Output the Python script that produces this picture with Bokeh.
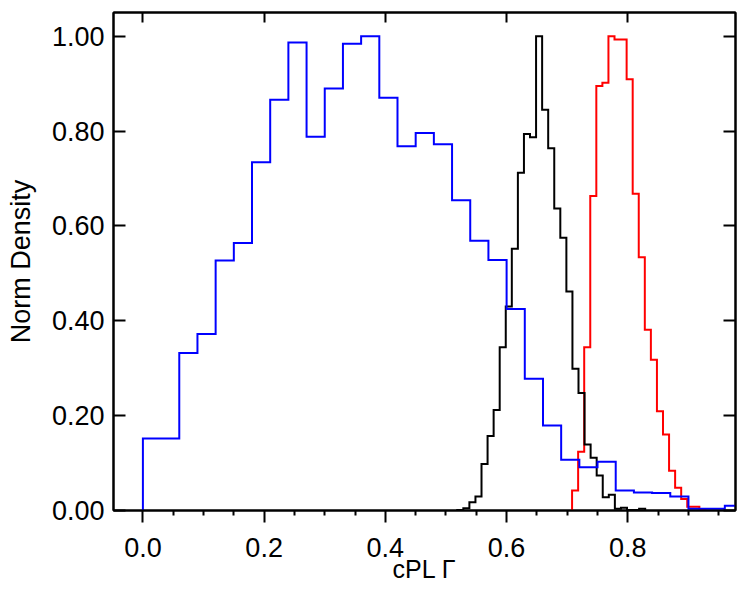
from bokeh.plotting import figure
from bokeh.models import (Range1d, LinearAxis, FixedTicker, PrintfTickFormatter,
                          CustomJSTickFormatter)
from bokeh.embed import file_html
from bokeh.resources import INLINE

# ---- data (normalized histograms) ----
blue_start = 0.0
blue_width = 0.03
blue_vals = [0.152, 0.152, 0.332, 0.372, 0.527, 0.564, 0.734, 0.866, 0.987, 0.788,
             0.890, 0.984, 1.000, 0.870, 0.768, 0.796, 0.772, 0.654, 0.569, 0.528,
             0.425, 0.278, 0.179, 0.107, 0.091, 0.103, 0.042, 0.038, 0.037, 0.0295,
             0.0035, 0.0035, 0.0098]

black_start = 0.5186
black_width = 0.01
black_vals = [0.001, 0.005, 0.0176, 0.0295, 0.098, 0.157, 0.212, 0.344, 0.430, 0.552,
              0.712, 0.794, 0.787, 1.000, 0.845, 0.764, 0.637, 0.575, 0.462, 0.299,
              0.248, 0.139, 0.111, 0.074, 0.028, 0.033, 0.0035, 0.0056, 0.001, 0.001,
              0.0035]

red_start = 0.708
red_width = 0.01
red_vals = [0.042, 0.124, 0.344, 0.663, 0.895, 0.902, 1.000, 0.993, 0.993, 0.909,
            0.668, 0.534, 0.381, 0.318, 0.209, 0.160, 0.084, 0.048, 0.024, 0.008,
            0.008, 0.002]

x_ticks = [0.0, 0.2, 0.4, 0.6, 0.8]
x_minor = [0.05, 0.1, 0.15, 0.25, 0.3, 0.35, 0.45, 0.5, 0.55, 0.65, 0.7, 0.75, 0.85, 0.9, 0.95]
y_ticks = [0.0, 0.2, 0.4, 0.6, 0.8, 1.0]

x_title = "cPL Γ"
y_title = "Norm Density"

FONT = "Liberation Sans"


def step_path(start, width, vals):
    xs, ys = [start], [0.0]
    for i, v in enumerate(vals):
        x0 = start + i * width
        xs += [x0, x0 + width]
        ys += [v, v]
    xs.append(start + len(vals) * width)
    ys.append(0.0)
    return xs, ys


p = figure(width=745, height=596,
           x_range=Range1d(-0.0485, 0.9776), y_range=Range1d(0, 1.05),
           output_backend="svg", toolbar_location=None,
           x_axis_location=None, y_axis_location=None,
           min_border_left=113, min_border_right=10,
           min_border_top=12, min_border_bottom=86)
p.grid.visible = False
p.outline_line_color = "black"
p.outline_line_width = 2
p.background_fill_color = "white"
p.border_fill_color = "white"

for (s, w, v, c) in [(red_start, red_width, red_vals, "#ff0000"),
                     (black_start, black_width, black_vals, "#000000"),
                     (blue_start, blue_width, blue_vals, "#0000ff")]:
    xs, ys = step_path(s, w, v)
    p.line(xs, ys, line_color=c, line_width=2, line_join="miter")


def style_axis(ax):
    ax.axis_line_width = 2
    ax.axis_line_color = "black"
    ax.major_tick_line_width = 2
    ax.minor_tick_line_width = 2
    ax.major_tick_line_color = "black"
    ax.minor_tick_line_color = "black"
    ax.major_label_text_font = FONT
    ax.major_label_text_color = "black"
    ax.axis_label_text_font = FONT
    ax.axis_label_text_font_style = "normal"
    ax.axis_label_text_color = "black"


xb = LinearAxis(ticker=FixedTicker(ticks=x_ticks, minor_ticks=x_minor),
                formatter=PrintfTickFormatter(format="%.1f"),
                axis_label=x_title)
style_axis(xb)
xb.major_tick_in = 0
xb.major_tick_out = 12
xb.minor_tick_in = 0
xb.minor_tick_out = 5
xb.major_label_text_font_size = "27px"
xb.major_label_standoff = 15
xb.axis_label_text_font_size = "25px"
xb.axis_label_standoff = -5
p.add_layout(xb, "below")

yl = LinearAxis(ticker=FixedTicker(ticks=y_ticks, minor_ticks=[]),
                formatter=PrintfTickFormatter(format="%.2f"),
                axis_label=y_title)
style_axis(yl)
yl.major_tick_in = 12
yl.major_tick_out = 0
yl.minor_tick_line_color = None
yl.major_label_text_font_size = "27px"
yl.major_label_standoff = 9
yl.axis_label_text_font_size = "27px"
yl.axis_label_standoff = 13
p.add_layout(yl, "left")

blank = CustomJSTickFormatter(code="return ''")

xt = LinearAxis(ticker=FixedTicker(ticks=x_ticks, minor_ticks=[]), formatter=blank)
style_axis(xt)
xt.major_tick_in = 10
xt.major_tick_out = 0
xt.minor_tick_line_color = None
xt.major_label_standoff = 0
p.add_layout(xt, "above")

yr = LinearAxis(ticker=FixedTicker(ticks=y_ticks, minor_ticks=[]), formatter=blank)
style_axis(yr)
yr.major_tick_in = 12
yr.major_tick_out = 0
yr.minor_tick_line_color = None
yr.major_label_standoff = 0
p.add_layout(yr, "right")

open("out.html", "w").write(file_html(p, INLINE))
